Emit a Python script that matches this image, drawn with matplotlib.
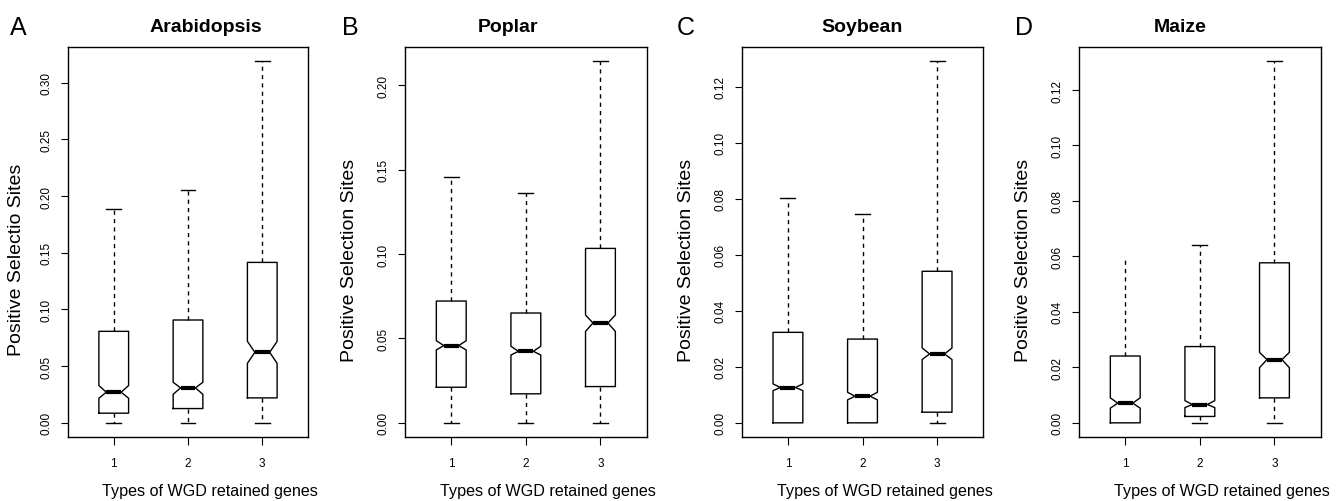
import matplotlib
matplotlib.use("Agg")
import matplotlib.pyplot as plt
import numpy as np

plt.rcParams["font.family"] = ["Liberation Sans", "DejaVu Sans"]

# values (3 retention types per species)
species = ["Arabidopsis", "Poplar", "Soybean", "Maize"]
letters = ["A", "B", "C", "D"]
ylabels = ["Positive Selectio Sites", "Positive Selection Sites",
           "Positive Selection Sites", "Positive Selection Sites"]
types = [1, 2, 3]

whislo = [[0, 0, 0], [0, 0, 0], [0, 0, 0], [0, 0, 0]]
q1 = [[0.0085, 0.0126, 0.022], [0.0211, 0.0172, 0.0215],
      [0.0, 0.0, 0.0038], [0.0, 0.0023, 0.009]]
med = [[0.027, 0.0308, 0.0622], [0.0458, 0.0424, 0.0592],
       [0.0126, 0.0095, 0.0246], [0.0071, 0.0066, 0.0228]]
q3 = [[0.0807, 0.0907, 0.1415], [0.0722, 0.0651, 0.1034],
      [0.0323, 0.0299, 0.0541], [0.0241, 0.0275, 0.0577]]
whishi = [[0.189, 0.205, 0.319], [0.1458, 0.1365, 0.2144],
          [0.0803, 0.0745, 0.1291], [0.0600, 0.0641, 0.1304]]
cilo = [[0.0217, 0.0252, 0.0525], [0.0432, 0.0402, 0.0542],
        [0.0115, 0.0082, 0.0226], [0.0053, 0.0055, 0.0199]]
cihi = [[0.0329, 0.0358, 0.0719], [0.0487, 0.0454, 0.0639],
        [0.0139, 0.0109, 0.0267], [0.009, 0.008, 0.0254]]
ytick_max = [0.30, 0.20, 0.12, 0.12]
ytick_step = [0.05, 0.05, 0.02, 0.02]

W, H = 1342, 502
# axes frames in pixels: left, right
frames = [(67.7, 308.3), (405.0, 646.7), (741.7, 983.3), (1079.0, 1320.7)]
top_px, bottom_px = 47.7, 438.3
title_x = [206, 508, 862, 1180]
letter_x = [10, 342, 677, 1015]
ylabel_x = [17, 350, 686.5, 1023.5]
xlabel_x = [210, 548, 884.7, 1222]

fig = plt.figure(figsize=(W / 100, H / 100), dpi=100)

for i in range(4):
    left, right = frames[i]
    ax = fig.add_axes([left / W, (H - bottom_px) / H, (right - left) / W,
                       (bottom_px - top_px) / H])
    stats = []
    for j in range(3):
        stats.append(dict(whislo=whislo[i][j], q1=q1[i][j], med=med[i][j],
                          q3=q3[i][j], whishi=whishi[i][j],
                          cilo=cilo[i][j], cihi=cihi[i][j]))
    art = ax.bxp(stats, positions=types, widths=0.4, shownotches=True,
                 showfliers=False,
                 boxprops=dict(color="black", lw=1.0),
                 whiskerprops=dict(color="black", lw=1.0, linestyle=(0, (3, 3))),
                 capprops=dict(color="black", lw=1.0),
                 medianprops=dict(color="black", lw=3.0, solid_capstyle="butt"))
    for j in range(3):
        # no lower whisker or staple when the box already sits on the minimum
        if q1[i][j] <= whislo[i][j]:
            art["caps"][2 * j].set_visible(False)
            art["whiskers"][2 * j].set_visible(False)
    if i == 3:
        # the upper staple of the first maize box is not drawn
        art["caps"][1].set_visible(False)

    lo = min(min(whislo[i]), min(q1[i]))
    hi = max(whishi[i])
    rng = hi - lo
    ax.set_ylim(lo - 0.04 * rng, hi + 0.04 * rng)
    ax.set_xlim(0.5 - 0.12, 3.5 + 0.12)
    ticks = np.arange(0, ytick_max[i] + 1e-9, ytick_step[i])
    ax.set_yticks(ticks)
    ax.set_yticklabels([f"{t:.2f}" for t in ticks])
    ax.set_xticks(types)
    ax.set_xticklabels([str(t) for t in types])
    ax.tick_params(axis="y", direction="out", length=5, width=0.8,
                   labelsize=8.5, pad=6)
    ax.tick_params(axis="x", direction="out", length=5.5, width=0.8,
                   labelsize=8.5, pad=9)
    for lab in ax.get_yticklabels():
        lab.set_rotation(90)
        lab.set_va("center")
    for sp in ax.spines.values():
        sp.set_linewidth(1.0)

    fig.text(title_x[i] / W, (H - 32) / H, species[i], ha="center",
             va="baseline", fontsize=14, fontweight="bold")
    fig.text(letter_x[i] / W, (H - 35) / H, letters[i], ha="left",
             va="baseline", fontsize=18)
    fig.text(ylabel_x[i] / W, (H - 260) / H, ylabels[i], rotation=90,
             ha="center", va="center", fontsize=14)
    fig.text(xlabel_x[i] / W, (H - 491.7) / H, "Types of WGD retained genes",
             ha="center", va="center", fontsize=11.6)

fig.savefig("out.png", dpi=100)
